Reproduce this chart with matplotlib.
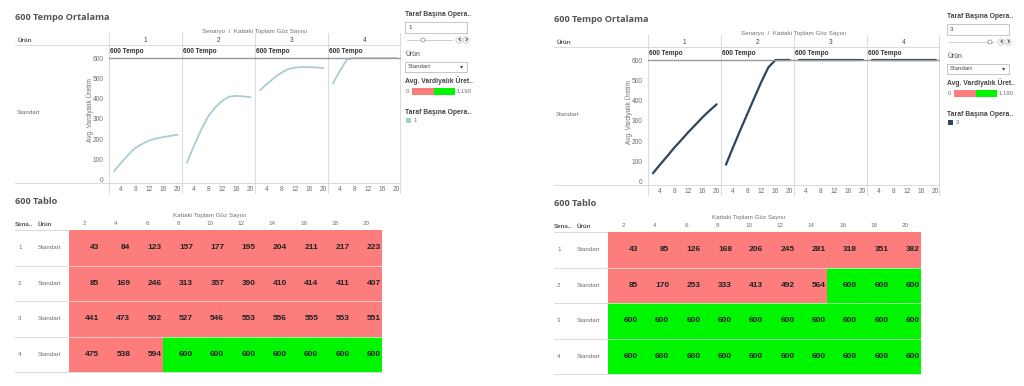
import matplotlib.pyplot as plt
from matplotlib.colors import ListedColormap, BoundaryNorm
from matplotlib.patches import Rectangle, Circle

# x axis / table columns
goz = [2, 4, 6, 8, 10, 12, 14, 16, 18, 20]
senaryo = ['1', '2', '3', '4']

# Taraf Basina Operator = 1
op1_s1 = [43, 84, 123, 157, 177, 195, 204, 211, 217, 223]
op1_s2 = [85, 169, 246, 313, 357, 390, 410, 414, 411, 407]
op1_s3 = [441, 473, 502, 527, 546, 553, 556, 555, 553, 551]
op1_s4 = [475, 538, 594, 600, 600, 600, 600, 600, 600, 600]

# Taraf Basina Operator = 3
op3_s1 = [43, 85, 126, 168, 206, 245, 281, 318, 351, 382]
op3_s2 = [85, 170, 253, 333, 413, 492, 564, 600, 600, 600]
op3_s3 = [600, 600, 600, 600, 600, 600, 600, 600, 600, 600]
op3_s4 = [600, 600, 600, 600, 600, 600, 600, 600, 600, 600]

ref_tempo = 600
renk_min, renk_max = 0, 1190

RED = '#fd7d7d'
GREEN = '#00f500'
GRID = '#dcdcdc'
TXT = '#707070'

plt.rcParams['font.family'] = ['Liberation Sans', 'DejaVu Sans']

W, H = 1024, 386
fig = plt.figure(figsize=(W / 100, H / 100), dpi=100)
fig.patch.set_facecolor('white')

ov = fig.add_axes([0, 0, 1, 1])
ov.set_xlim(0, W)
ov.set_ylim(H, 0)
ov.axis('off')


def ax_at(x0, y0, x1, y1):
    return fig.add_axes([x0 / W, 1 - y1 / H, (x1 - x0) / W, (y1 - y0) / H])


def hline(y, x0, x1, color=GRID, lw=0.8):
    ov.plot([x0, x1], [y, y], color=color, lw=lw, zorder=1)


def vline(x, y0, y1, color=GRID, lw=0.8):
    ov.plot([x, x], [y0, y1], color=color, lw=lw, zorder=1)


def dashboard(dx, dy, series, table, line_color, lw, op_label, knob_x, ldx):
    # --- line chart part
    ov.text(15 + dx, 17 + dy, '600 Tempo Ortalama', fontsize=6.6, color='#555555',
            fontweight='bold', va='center', family=['Open Sans', 'DejaVu Sans'])
    ov.text(255 + dx, 31 + dy, 'Senaryo  /  Kattaki Toplam Göz Sayısı', fontsize=4.5,
            color=TXT, ha='center', va='center')
    ov.text(18 + dx, 40 + dy, 'Ürün', fontsize=4.5, color='#555555', va='center',
            fontweight='bold')
    px = [109 + dx, 182 + dx, 255 + dx, 328 + dx]
    pw = 72.5
    for i, s in enumerate(senaryo):
        ov.text(px[i] + pw / 2, 40 + dy, s, fontsize=4.7, color='#444444',
                ha='center', va='center')
    hline(45 + dy, 15 + dx, 400 + dx)
    hline(183 + dy, 15 + dx, 400 + dx)
    for x in px + [400 + dx]:
        vline(x, 33 + dy, 193 + dy)
    ov.text(17 + dx, 113 + dy, 'Standart', fontsize=4.5, color=TXT, va='center')
    ov.text(90 + dx, 110 + dy, 'Avg. Vardiyalık Üretim', fontsize=4.7, color=TXT,
            rotation=90, ha='center', va='center')

    for i, vals in enumerate(series):
        ax = ax_at(px[i], 45 + dy, px[i] + pw, 183 + dy)
        ax.set_facecolor('none')
        ax.plot(goz, vals, color=line_color, lw=lw, solid_capstyle='round')
        ax.axhline(ref_tempo, color='#9a9a9a', lw=1.0)
        ax.text(0.9, ref_tempo + 14, '600 Tempo', fontsize=4.7, fontweight='bold',
                color='#333333', va='bottom')
        ax.set_xlim(0.6, 21.1)
        ax.set_ylim(-15, 664)
        ax.set_xticks([4, 8, 12, 16, 20])
        ax.tick_params(axis='x', length=0, pad=2, labelsize=4.8, labelcolor=TXT)
        if i == 0:
            ax.set_yticks([0, 100, 200, 300, 400, 500, 600])
            ax.tick_params(axis='y', length=0, pad=4, labelsize=4.8, labelcolor=TXT)
        else:
            ax.set_yticks([])
        for sp in ax.spines.values():
            sp.set_visible(False)

    # --- table part
    ov.text(15 + dx, 202 + dy, '600 Tablo', fontsize=6.6, color='#555555',
            fontweight='bold', va='center', family=['Open Sans', 'DejaVu Sans'])
    ov.text(210 + dx, 215 + dy, 'Kattaki Toplam Göz Sayısı', fontsize=4.5,
            color=TXT, ha='center', va='center')
    ov.text(15 + dx, 224 + dy, 'Sena..', fontsize=4.5, color='#555555',
            va='center', fontweight='bold')
    ov.text(38 + dx, 224 + dy, 'Ürün', fontsize=4.5, color='#555555',
            va='center', fontweight='bold')
    t0, t1 = 230 + dy, 372 + dy
    rh = (t1 - t0) / 4
    for r in range(4):
        hline(t0 + r * rh, 15 + dx, 69 + dx)
        ov.text(18 + dx, t0 + (r + 0.5) * rh, senaryo[r], fontsize=4.5,
                color=TXT, va='center')
        ov.text(38 + dx, t0 + (r + 0.5) * rh, 'Standart', fontsize=4.5,
                color=TXT, va='center')
    hline(t1, 15 + dx, 382 + dx)

    axt = ax_at(69 + dx, t0, 382 + dx, t1)
    cmap = ListedColormap([RED, GREEN])
    norm = BoundaryNorm([renk_min, ref_tempo, renk_max], 2)
    axt.pcolormesh(range(len(goz) + 1), range(len(table) + 1), table,
                   cmap=cmap, norm=norm)
    axt.set_xlim(0, len(goz))
    axt.set_ylim(len(table), 0)
    for r in range(1, len(table)):
        axt.axhline(r, color='white', lw=0.6, alpha=0.7)
    for r, row in enumerate(table):
        for c, v in enumerate(row):
            axt.text(c + 0.96, r + 0.5, str(v), ha='right', va='center',
                     fontsize=6.0, fontweight='bold', color='#222222')
    for c, g in enumerate(goz):
        axt.text(c + 0.5, -0.17, str(g), ha='center', va='center',
                 fontsize=4.5, color=TXT, clip_on=False)
    axt.axis('off')

    # --- legend / controls
    lx = 405 + ldx
    ly = dy
    ov.text(lx, 15 + ly, 'Taraf Başına Opera..', fontsize=4.9, color='#444444',
            va='center', fontweight='bold')
    ov.add_patch(Rectangle((lx, 22 + ly), 62, 11, fc='white', ec='#bdbdbd', lw=0.6))
    ov.text(lx + 3, 27.5 + ly, op_label, fontsize=4.5, color='#444444', va='center')
    ov.plot([lx + 2, lx + 47], [40 + ly, 40 + ly], color='#c8c8c8', lw=0.6)
    ov.add_patch(Circle((knob_x, 40 + ly), 2.0, fc='white', ec='#999999', lw=0.6, zorder=3))
    for k, ch in enumerate(['‹', '›']):
        ov.add_patch(Circle((lx + 54 + k * 7, 40 + ly), 3.2, fc='#f4f4f4',
                            ec='#bbbbbb', lw=0.4))
        ov.text(lx + 54 + k * 7, 39.6 + ly, ch, fontsize=6, color='#333333',
                ha='center', va='center', fontweight='bold', family='DejaVu Sans')
    ov.text(lx, 55 + ly, 'Ürün', fontsize=4.9, color='#444444', va='center')
    ov.add_patch(Rectangle((lx, 62 + ly), 62, 10, fc='white', ec='#bdbdbd', lw=0.6))
    ov.text(lx + 3, 67 + ly, 'Standart', fontsize=4.3, color='#444444', va='center')
    ov.text(lx + 57, 67 + ly, '▾', fontsize=4.5, color='#444444', ha='center', va='center',
            family='DejaVu Sans')
    ov.text(lx, 81 + ly, 'Avg. Vardiyalık Üret..', fontsize=4.9, color='#444444',
            va='center', fontweight='bold')
    ov.text(lx + 1, 91.5 + ly, '0', fontsize=4.2, color=TXT, va='center')
    bx0, bx1 = lx + 7, lx + 50
    split = bx0 + (bx1 - bx0) * ref_tempo / renk_max
    ov.add_patch(Rectangle((bx0, 88 + ly), split - bx0, 7, fc=RED, ec='none'))
    ov.add_patch(Rectangle((split, 88 + ly), bx1 - split, 7, fc=GREEN, ec='none'))
    ov.text(bx1 + 2, 91.5 + ly, '1.190', fontsize=4.2, color=TXT, va='center')
    ov.text(lx, 113 + ly, 'Taraf Başına Opera..', fontsize=4.9, color='#444444',
            va='center', fontweight='bold')
    ov.add_patch(Rectangle((lx + 1, 118 + ly), 5, 5, fc=line_color, ec='none'))
    ov.text(lx + 9, 121 + ly, op_label, fontsize=4.2, color=TXT, va='center')


dashboard(0, 0, [op1_s1, op1_s2, op1_s3, op1_s4],
          [op1_s1, op1_s2, op1_s3, op1_s4], '#a9cdd3', 1.3, '1', 423, 0)
dashboard(539, 2, [op3_s1, op3_s2, op3_s3, op3_s4],
          [op3_s1, op3_s2, op3_s3, op3_s4], '#2f4559', 1.6, '3', 990, 542)

fig.savefig('out.png', dpi=100, facecolor='white')
